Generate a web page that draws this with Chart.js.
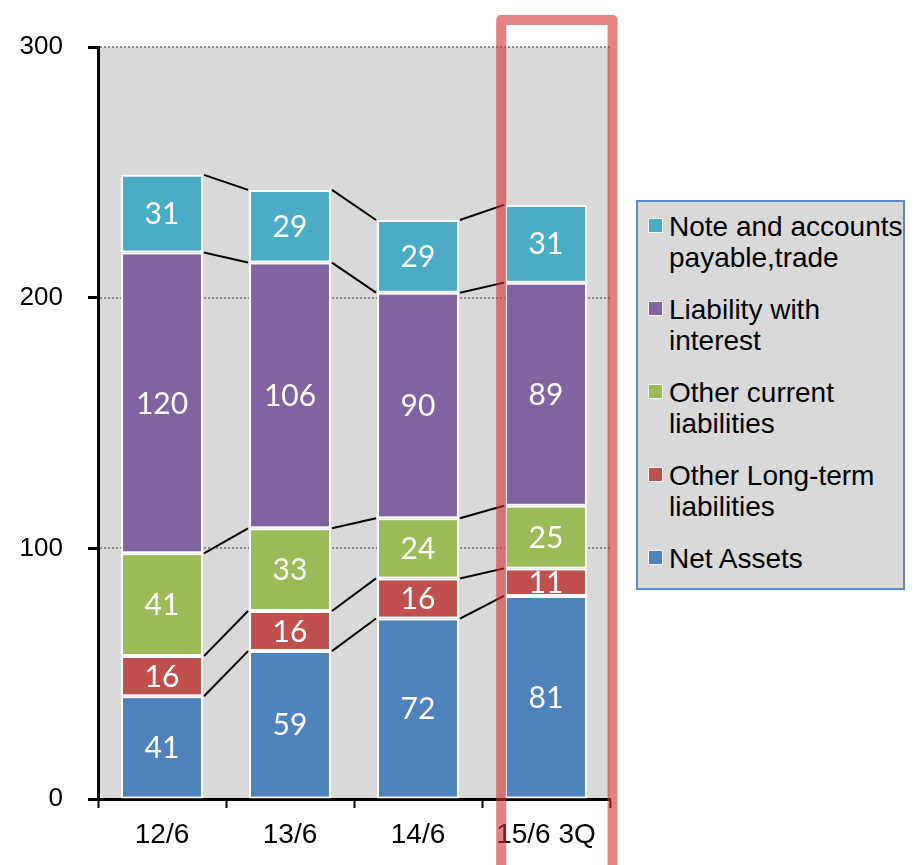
<!DOCTYPE html>
<html>
<head>
<meta charset="utf-8">
<script src="https://cdn.jsdelivr.net/npm/chart.js@4.4.0/dist/chart.umd.min.js"></script>
<style>
  html, body { margin: 0; padding: 0; background: #fff; }
  #wrap { position: relative; width: 915px; height: 865px; overflow: hidden; }
  #legend {
    position: absolute; left: 636px; top: 200px; width: 269px; height: 390px;
    box-sizing: border-box; background: #d9d9d9; border: 2px solid #5b8ac6;
    font-family: 'Liberation Sans', Arial, sans-serif; font-size: 28px; line-height: 31px; color: #000;
  }
  .item { position: relative; padding-left: 31px; margin-top: 21px; white-space: nowrap; }
  .item:first-child { margin-top: 9px; }
  .mark { position: absolute; left: 10px; top: 7px; width: 13px; height: 13px; border: 1px solid #f4f4f4; }
</style>
</head>
<body>
<div id="wrap">
  <canvas id="chart" width="915" height="865"></canvas>
  <div id="legend"></div>
</div>
<script>
// data
const categories = ['12/6', '13/6', '14/6', '15/6 3Q'];
const netAssets = [41, 59, 72, 81];
const otherLongTerm = [16, 16, 16, 11];
const otherCurrent = [41, 33, 24, 25];
const liabilityInterest = [120, 106, 90, 89];
const notesPayable = [31, 29, 29, 31];
const seriesNames = [
  ['Net Assets'],
  ['Other Long-term', 'liabilities'],
  ['Other current', 'liabilities'],
  ['Liability with', 'interest'],
  ['Note and accounts', 'payable,trade']
];
const seriesColors = ['#4f81bd', '#c0504d', '#9bbb59', '#8064a2', '#4bacc6'];
const yTicks = [0, 100, 200, 300];

const seriesValues = [netAssets, otherLongTerm, otherCurrent, liabilityInterest, notesPayable];

// grey plot area + dotted grid lines
const plotBackground = {
  id: 'plotBackground',
  beforeDraw(chart) {
    const { ctx, chartArea: a } = chart;
    ctx.save();
    ctx.fillStyle = '#d9d9d9';
    ctx.fillRect(a.left, a.top, a.right - a.left, a.bottom - a.top);
    ctx.restore();
  },
  beforeDatasetsDraw(chart) {
    const { ctx, chartArea: a, scales } = chart;
    ctx.save();
    ctx.strokeStyle = '#8c8c8c';
    ctx.lineWidth = 2;
    ctx.setLineDash([2, 2]);
    yTicks.forEach(v => {
      if (v === 0) return;
      const py = Math.round(scales.y.getPixelForValue(v));
      ctx.beginPath();
      ctx.moveTo(a.left + 2, py);
      ctx.lineTo(a.right, py);
      ctx.stroke();
    });
    ctx.restore();
  }
};

// series lines between bars + value labels
const seriesLines = {
  id: 'seriesLines',
  afterDatasetsDraw(chart) {
    const ctx = chart.ctx;
    ctx.save();
    ctx.strokeStyle = '#000';
    ctx.lineWidth = 2;
    chart.data.datasets.forEach((ds, di) => {
      const bars = chart.getDatasetMeta(di).data;
      for (let i = 0; i < bars.length - 1; i++) {
        const a = bars[i], b = bars[i + 1];
        ctx.beginPath();
        ctx.moveTo(a.x + a.width / 2 + 1, a.y);
        ctx.lineTo(b.x - b.width / 2 - 1, b.y);
        ctx.stroke();
      }
    });
    ctx.fillStyle = '#fff';
    ctx.font = '30px Lato';
    ctx.textAlign = 'center';
    ctx.textBaseline = 'middle';
    chart.data.datasets.forEach((ds, di) => {
      chart.getDatasetMeta(di).data.forEach((bar, i) => {
        const c = bar.getCenterPoint();
        ctx.fillText(ds.data[i], c.x, c.y + 1);
      });
    });
    ctx.restore();
  }
};

// red frame around the last category
const highlight = {
  id: 'highlight',
  afterDraw(chart) {
    const { ctx, chartArea: a, scales } = chart;
    const cx = scales.x.getPixelForValue(categories.length - 1);
    const w = scales.x.getPixelForValue(1) - scales.x.getPixelForValue(0);
    const left = cx - 0.35 * w, right = cx + 0.52 * w, top = a.top - 27;
    ctx.save();
    ctx.strokeStyle = 'rgba(212, 45, 45, 0.6)';
    ctx.lineWidth = 10;
    ctx.lineJoin = 'round';
    ctx.beginPath();
    ctx.moveTo(left, chart.height + 10);
    ctx.lineTo(left, top);
    ctx.lineTo(right, top);
    ctx.lineTo(right, chart.height + 10);
    ctx.stroke();
    ctx.restore();
  }
};

const datasets = seriesValues.map((vals, i) => ({
  label: seriesNames[i].join(' '),
  data: vals,
  backgroundColor: seriesColors[i],
  borderColor: '#fff',
  borderWidth: 2,
  borderSkipped: false,
  barPercentage: 0.64,
  categoryPercentage: 1
}));

new Chart(document.getElementById('chart').getContext('2d'), {
  type: 'bar',
  data: { labels: categories, datasets: datasets },
  options: {
    responsive: false,
    animation: false,
    devicePixelRatio: 1,
    layout: { padding: { top: 47, right: 305, bottom: 0, left: 0 } },
    plugins: { legend: { display: false }, tooltip: { enabled: false } },
    scales: {
      x: {
        stacked: true,
        ticks: { color: '#000', font: { family: 'Liberation Sans', size: 28 }, padding: 10 },
        grid: { drawOnChartArea: false, tickLength: 9, tickColor: '#000', tickWidth: 2, offset: true },
        border: { color: '#000', width: 3 },
        afterFit(scale) { scale.height = 66; }
      },
      y: {
        stacked: true,
        min: 0,
        max: 300,
        ticks: { stepSize: 100, padding: 25, color: '#000', font: { family: 'Liberation Sans', size: 26 } },
        grid: { drawOnChartArea: false, tickLength: 10, tickColor: '#000', tickWidth: 3 },
        border: { color: '#000', width: 3 },
        afterFit(scale) { scale.width = 98; }
      }
    }
  },
  plugins: [plotBackground, seriesLines, highlight]
});

// legend, top series first
const legend = document.getElementById('legend');
for (let i = seriesNames.length - 1; i >= 0; i--) {
  const item = document.createElement('div');
  item.className = 'item';
  const mark = document.createElement('span');
  mark.className = 'mark';
  mark.style.background = seriesColors[i];
  item.appendChild(mark);
  seriesNames[i].forEach((line, k) => {
    if (k > 0) item.appendChild(document.createElement('br'));
    item.appendChild(document.createTextNode(line));
  });
  legend.appendChild(item);
}
</script>
</body>
</html>
